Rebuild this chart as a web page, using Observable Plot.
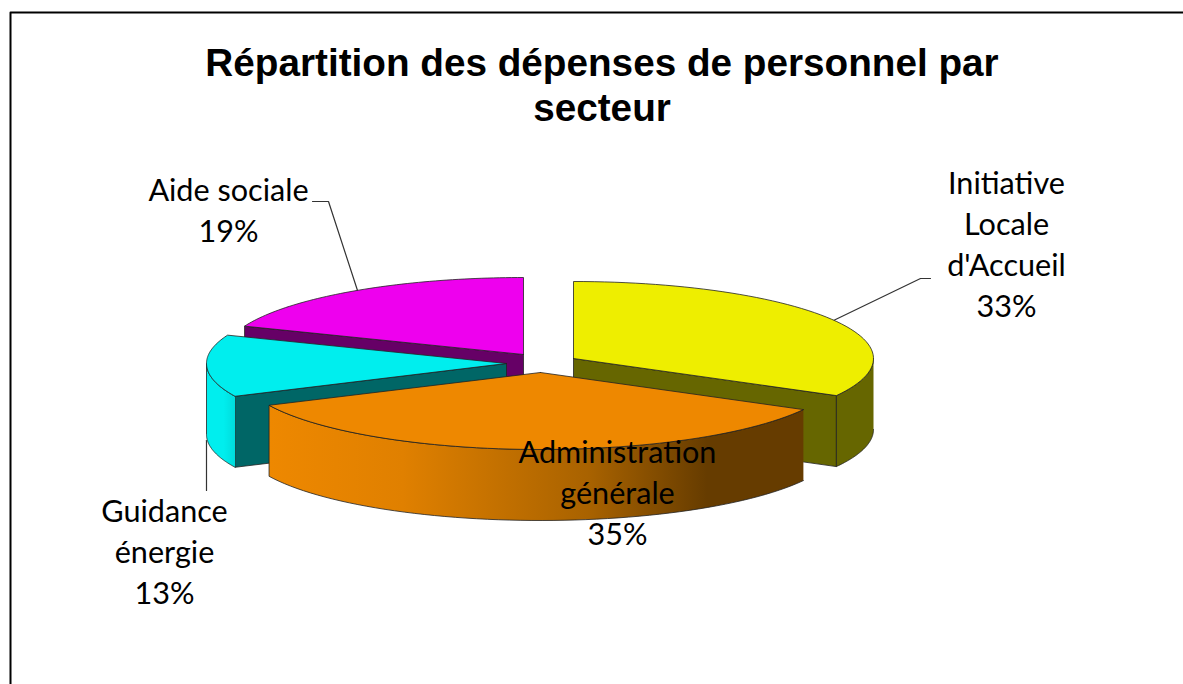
<!DOCTYPE html>
<html>
<head>
<meta charset="utf-8">
<script src="https://cdn.jsdelivr.net/npm/d3@7"></script>
<script src="https://cdn.jsdelivr.net/npm/@observablehq/plot@0.6"></script>
<style>html,body{margin:0;padding:0;background:#fff}svg{display:block}</style>
</head>
<body>
<div id="chart"></div>
<script>
// Data, in clockwise order from twelve o'clock
const sectors = ["Initiative Locale d'Accueil", "Administration générale", "Guidance énergie", "Aide sociale"];
const shares = [33, 35, 13, 19];
const titleLines = "Répartition des dépenses de personnel par\nsecteur";
const labelTexts = ["Initiative\nLocale\nd'Accueil\n33%", "Administration\ngénérale\n35%", "Guidance\nénergie\n13%", "Aide sociale\n19%"];

// Presentation
const topColors = ["#eeee00", "#ee8800", "#00eeee", "#ee00ee"];
const sideColors = ["#666600", "#663c00", "#006666", "#660066"];
const outerFills = ["#666600", "url(#orangeWall)", "url(#cyanWall)", "#660066"];
const apexX = [573, 540, 506, 523];
const apexY = [358, 372, 363, 354];
const labelX = [1006, 617, 164, 228];
const labelY = [242, 490.5, 549.5, 208];
const leaderPaths = [
  [[930, 278], [920, 278], [833, 320]],
  [[206, 440], [206, 490]],
  [[312, 201], [328, 201], [357, 290]]
];
const framePath = [[10, 684], [10, 12], [1183, 12]];
const rx = 300, ry = 77, depth = 71;
const drawOrder = [3, 2, 0, 1];

const TAU = Math.PI * 2;
let cum = 0;
const total = d3.sum(shares);
const slices = shares.map((s, i) => {
  const a0 = cum / total * TAU; cum += s; const a1 = cum / total * TAU;
  return {i, a0, a1, cx: apexX[i], cy: apexY[i]};
});
const rim = (s, a, dz = 0) => [s.cx + rx * Math.sin(a), s.cy - ry * Math.cos(a) + dz];
const arc = (s, a0, a1, dz = 0) => d3.range(61).map(k => rim(s, a0 + (a1 - a0) * k / 60, dz));

// Polygons of every slice, back to front
const polys = [];
let pid = 0;
const add = (pts, fill) => { const id = pid++; pts.forEach(p => polys.push({id, x: p[0], y: p[1], fill})); };
for (const i of drawOrder) {
  const s = slices[i];
  const apex = [s.cx, s.cy];
  // inner walls that face the viewer
  const wall = (a) => {
    const r = rim(s, a), rb = rim(s, a, depth);
    add([apex, r, rb, [s.cx, s.cy + depth], apex], sideColors[i]);
  };
  if (i === 0) wall(s.a1);
  if (i === 2) wall(s.a0);
  if (i === 3) wall(s.a0);
  // outer wall, only the part of the rim facing the viewer (lower half of the ellipse)
  const lo = Math.max(s.a0, Math.PI / 2), hi = Math.min(s.a1, Math.PI * 1.5);
  if (hi > lo) add([...arc(s, lo, hi), ...arc(s, hi, lo, depth)], outerFills[i]);
  // top face
  add([apex, ...arc(s, s.a0, s.a1), apex], topColors[i]);
}

const labels = labelTexts.map((t, i) => ({t, x: labelX[i], y: labelY[i]}));
const leaders = leaderPaths.flatMap((p, id) => p.map(q => ({id, x: q[0], y: q[1]})));
const frame = framePath.map(q => ({x: q[0], y: q[1]}));

function gradients() {
  const ns = "http://www.w3.org/2000/svg";
  const defs = document.createElementNS(ns, "defs");
  const mk = (id, stops) => {
    const g = document.createElementNS(ns, "linearGradient");
    g.setAttribute("id", id);
    stops.forEach(([o, c]) => {
      const st = document.createElementNS(ns, "stop");
      st.setAttribute("offset", o); st.setAttribute("stop-color", c); g.appendChild(st);
    });
    defs.appendChild(g);
  };
  mk("orangeWall", [[0, "#ee8800"], [0.25, "#e08000"], [0.6, "#a86200"], [0.82, "#663c00"], [1, "#663c00"]]);
  mk("cyanWall", [[0, "#00eeee"], [0.6, "#00eeee"], [1, "#00dcdc"]]);
  return defs;
}

const plot = Plot.plot({
  width: 1183, height: 684,
  margin: 0,
  x: {domain: [0, 1183], range: [0, 1183], axis: null},
  y: {domain: [0, 684], range: [0, 684], axis: null},
  style: {background: "#fff"},
  marks: [
    gradients,
    Plot.line(frame, {x: "x", y: "y", stroke: "#000", strokeWidth: 2}),
    Plot.line(leaders, {x: "x", y: "y", z: "id", stroke: "#333", strokeWidth: 1.2}),
    Plot.line(polys, {x: "x", y: "y", z: "id", fill: d => d.fill, stroke: "#222", strokeWidth: 0.8, curve: "linear"}),
    Plot.text([titleLines], {x: [601.5], y: [84], text: d => d, fontFamily: "Liberation Sans", fontWeight: "bold", fontSize: 38.7, lineHeight: 1.165, fill: "#000", textAnchor: "middle"}),
    Plot.text(labels, {x: "x", y: "y", text: "t", fontFamily: "Lato", fontSize: 30.6, lineHeight: 1.34, fill: "#000", textAnchor: "middle", lineAnchor: "middle"})
  ]
});
document.getElementById("chart").appendChild(plot);
</script>
</body>
</html>
